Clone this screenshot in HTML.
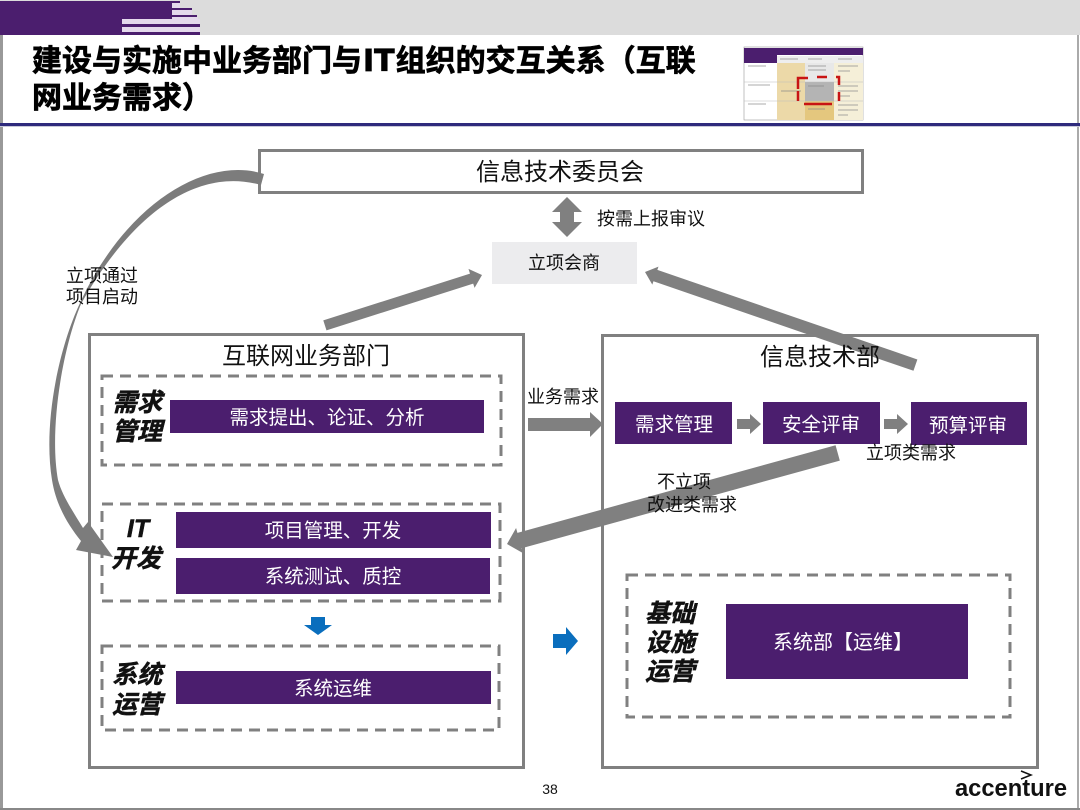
<!DOCTYPE html>
<html><head><meta charset="utf-8"><style>
html,body{margin:0;padding:0;background:#fff}
svg{display:block}
text{font-family:"Liberation Sans","Noto Sans CJK SC",sans-serif;fill:#111}
.w{fill:#fff}
.m{text-anchor:middle}
.i{font-style:italic;font-weight:700;font-size:25px;text-anchor:middle;stroke:#111;stroke-width:.5px}
.t{stroke:#000;stroke-width:.7px;fill:#000}
</style></head><body>
<svg width="1080" height="810" viewBox="0 0 1080 810" xmlns="http://www.w3.org/2000/svg">
<rect width="1080" height="810" fill="#fff"/>
<!-- header band -->
<rect x="0" y="0" width="1080" height="35" fill="#dcdcdc"/>
<rect x="0" y="1" width="172" height="34" fill="#4b1e6e"/>
<rect x="172" y="1" width="8" height="2" fill="#4b1e6e"/>
<rect x="172" y="3" width="8" height="5" fill="#e4d9ec"/>
<rect x="172" y="8" width="20" height="2" fill="#4b1e6e"/>
<rect x="172" y="10" width="20" height="5" fill="#e4d9ec"/>
<rect x="172" y="15" width="25" height="2" fill="#4b1e6e"/>
<rect x="172" y="17" width="26" height="2" fill="#e4d9ec"/>
<rect x="122" y="19" width="78" height="5" fill="#e4d9ec"/>
<rect x="122" y="24" width="78" height="3" fill="#4b1e6e"/>
<rect x="122" y="27" width="78" height="5" fill="#e4d9ec"/>
<rect x="122" y="32" width="78" height="3" fill="#4b1e6e"/>
<!-- page frame -->
<rect x="0" y="35" width="3" height="775" fill="#999"/>
<rect x="1077" y="35" width="2" height="775" fill="#aaa"/>
<rect x="0" y="808" width="1080" height="2" fill="#888"/>
<!-- title -->
<text x="32" y="71" font-size="30" font-weight="700" class="t">建设与实施中业务部门与<tspan style="font-family:'DejaVu Sans',sans-serif" font-size="30" dx="1">IT</tspan><tspan dx="1">组织的交互关系（互联</tspan></text>
<text x="32" y="108" font-size="30" font-weight="700" class="t">网业务需求）</text>
<rect x="0" y="123" width="1080" height="3" fill="#2e2a7c"/>
<rect x="0" y="126" width="1080" height="1" fill="#c8c8d8"/>
<!-- thumbnail -->
<rect x="744" y="47" width="119" height="73" fill="#fff" stroke="#999" stroke-width="0.6"/>
<rect x="744" y="48" width="119" height="7" fill="#4b1e6e"/>
<rect x="744" y="55" width="33" height="8" fill="#4b1e6e"/>
<rect x="777" y="56" width="86" height="7" fill="#eee"/>
<rect x="777" y="63" width="28" height="57" fill="#ecd9a8"/>
<rect x="805" y="63" width="29" height="19" fill="#e8e8e8"/>
<rect x="805" y="82" width="29" height="19" fill="#b4b4b4"/>
<rect x="805" y="101" width="29" height="19" fill="#e4c77e"/>
<rect x="834" y="63" width="29" height="57" fill="#f5efd8"/>
<path d="M777 82H863M777 101H863M744 82H777M744 101H777" stroke="#bbb" stroke-width="0.6"/>
<path d="M748 66H766M748 85H770M748 104H766M781 91H801M808 66H826M808 70H826M808 86H824M838 66H858M838 71H850M838 86H858M838 91H858M838 96H850M838 105H858M838 110H858M838 115H848M808 109H825M780 59H798M808 59H822M838 59H852" stroke="#888" stroke-width="1" opacity=".7"/>
<path d="M798 89V78H808M817 77H827M836 77H839V85M839 92V101M804 104H832M798 91V101" stroke="#c81414" stroke-width="2.500" fill="none"/>
<!-- committee -->
<rect x="259.500" y="150.500" width="603" height="42" fill="#fff" stroke="#808080" stroke-width="3"/>
<text x="560" y="180" font-size="24" class="m">信息技术委员会</text>
<!-- double arrow -->
<polygon points="567,197 582,212 574,212 574,222 582,222 567,237 552,222 560,222 560,212 552,212" fill="#808080"/>
<text x="597" y="225" font-size="18">按需上报审议</text>
<rect x="492" y="242" width="145" height="42" fill="#ececee"/>
<text x="564" y="269" font-size="18" class="m">立项会商</text>
<!-- panels -->
<rect x="89.500" y="334.500" width="434" height="433" fill="#fff" stroke="#808080" stroke-width="3"/>
<rect x="602.500" y="335.500" width="435" height="432" fill="#fff" stroke="#808080" stroke-width="3"/>
<!-- dashed boxes -->
<g fill="none" stroke="#808080" stroke-width="3" stroke-dasharray="11 7">
<rect x="102" y="376" width="399" height="89"/>
<rect x="102" y="504" width="398" height="97"/>
<rect x="102" y="646" width="397" height="84"/>
<rect x="627" y="575" width="383" height="142"/>
</g>
<!-- left purple -->
<g fill="#4b1e6e">
<rect x="170" y="400" width="314" height="33"/>
<rect x="176" y="512" width="315" height="36"/>
<rect x="176" y="558" width="314" height="36"/>
<rect x="176" y="671" width="315" height="33"/>
<rect x="726" y="604" width="242" height="75"/>
<rect x="615" y="402" width="117" height="42"/>
<rect x="763" y="402" width="117" height="42"/>
<rect x="911" y="402" width="116" height="43"/>
</g>
<!-- small arrows between -->
<polygon points="737,419 750,419 750,414 761,424 750,434 750,429 737,429" fill="#808080"/>
<polygon points="884,419 897,419 897,414 908,424 897,434 897,429 884,429" fill="#808080"/>
<polygon points="528,418 590,418 590,412 603,424 590,437 590,431 528,431" fill="#808080"/>
<!-- big straight arrows -->
<g fill="#808080">
<polygon transform="translate(482,275) rotate(-17.700)" points="0,0 -11,-10 -11,-5 -165,-5 -165,5.500 -11,5.500 -11,10"/>
<polygon transform="translate(645,272) rotate(19)" points="0,0 11,-9.500 11,-6 286,-6 286,6 11,6 11,9.500"/>
<polygon transform="translate(507,544) rotate(-15.400)" points="0,0 13,-13 13,-8 343,-8 343,8 13,8 13,13"/>
</g>
<!-- labels -->
<g font-size="19.500" class="m">
<text x="327" y="424" class="w m">需求提出、论证、分析</text>
<text x="333" y="537" class="w m">项目管理、开发</text>
<text x="333" y="583" class="w m">系统测试、质控</text>
<text x="333" y="695" class="w m">系统运维</text>
<text x="843" y="649" font-size="20" class="w m">系统部【运维】</text>
<text x="674" y="431" class="w m">需求管理</text>
<text x="821" y="431" class="w m">安全评审</text>
<text x="968" y="432" class="w m">预算评审</text>
</g>
<text x="306" y="364" font-size="24" class="m">互联网业务部门</text>
<text x="820" y="365" font-size="24" class="m">信息技术部</text>
<text x="563" y="403" font-size="18" class="m">业务需求</text>
<text x="911" y="459" font-size="18" class="m">立项类需求</text>
<text x="684" y="488" font-size="18" class="m">不立项</text>
<text x="692" y="511" font-size="18" class="m">改进类需求</text>
<!-- italic labels -->
<text x="137" y="411" class="i">需求</text>
<text x="137" y="440" class="i">管理</text>
<text x="138" y="537" class="i">IT</text>
<text x="136" y="567" class="i">开发</text>
<text x="137" y="683" class="i">系统</text>
<text x="137" y="713" class="i">运营</text>
<text x="670" y="622" class="i">基础</text>
<text x="670" y="651" class="i">设施</text>
<text x="670" y="680" class="i">运营</text>
<!-- curved arrow -->
<path d="M264,174 C205,155 125,205 80,303 C58,350 43,425 52,480 C56,505 68,525 81,541 L76,550 L113,557 L88,522 L83,528 C72,510 62,495 58,480 C49,430 62,350 81,304 C125,225 190,165 261,185 Z" fill="#7c7c7c"/>
<text x="66" y="282" font-size="18">立项通过</text>
<text x="66" y="303" font-size="18">项目启动</text>
<!-- blue arrows -->
<polygon points="311,617 325,617 325,625 332,625 318,635 304,625 311,625" fill="#0a6ebd"/>
<polygon points="553,634 566,634 566,627 578,641 566,655 566,648 553,648" fill="#0a6ebd"/>
<!-- footer -->
<text x="550" y="794" font-size="14" class="m">38</text>
<text x="1011" y="796" font-size="24" font-weight="700" class="m" textLength="112" lengthAdjust="spacingAndGlyphs">accenture</text>
<path d="M1021 771L1031 775L1021 779" fill="none" stroke="#111" stroke-width="1.500"/>
</svg>
</body></html>
